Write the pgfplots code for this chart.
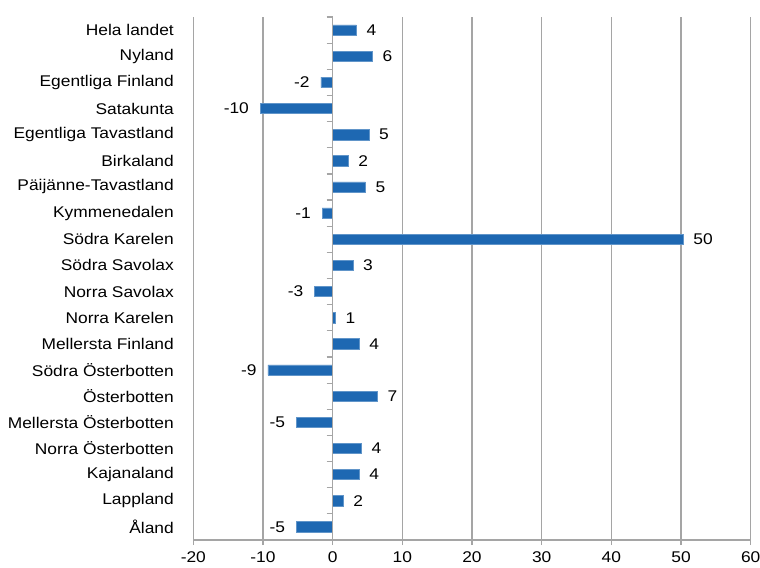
\documentclass[border=0pt]{standalone}
\usepackage{pgfplots}
\usepackage{pgfplotstable}
\pgfplotsset{compat=1.18}
\usepackage{fontspec}
\setmainfont{Liberation Sans}[FakeStretch=1.12]
\definecolor{barblue}{RGB}{30,104,178}
\definecolor{gridgray}{RGB}{165,165,165}
\newcommand{\chartfont}{\fontsize{15.5bp}{18bp}\selectfont}
% positive values
\pgfplotstableread[col sep=comma]{
y,x,lab
0,3.4,4
1,5.7,6
4,5.2,5
5,2.2,2
6,4.7,5
8,50.3,50
9,2.9,3
11,0.4,1
12,3.8,4
14,6.4,7
16,4.1,4
17,3.8,4
18,1.5,2
}\postable
% negative values
\pgfplotstableread[col sep=comma]{
y,x,lab
2,-1.7,-2
3,-10.4,-10
7,-1.5,-1
10,-2.6,-3
13,-9.3,-9
15,-5.2,-5
19,-5.2,-5
}\negtable
\begin{document}
\begin{tikzpicture}
\begin{axis}[
  at={(193.3bp,28bp)}, anchor=south west,
  width=557.4bp, height=523bp, scale only axis,
  xmin=-20, xmax=60, ymin=-0.5, ymax=19.5,
  y dir=reverse,
  axis x line*=bottom, axis y line*=left,
  axis line style={draw=gridgray, line width=1.2bp},
  xtick={-20,-10,0,10,20,30,40,50,60},
  xticklabels={-20,-10,0,10,20,30,40,50,60},
  xmajorgrids, grid style={draw=gridgray, line width=1.2bp},
  x tick style={draw=gridgray, line width=1.2bp},
  tick align=outside, major tick length=5bp,
  ytick={0,...,19},
  yticklabels={Hela landet,Nyland,Egentliga Finland,Satakunta,Egentliga Tavastland,Birkaland,Päijänne-Tavastland,Kymmenedalen,Södra Karelen,Södra Savolax,Norra Savolax,Norra Karelen,Mellersta Finland,Södra Österbotten,Österbotten,Mellersta Österbotten,Norra Österbotten,Kajanaland,Lappland,Åland},
  y tick style={draw=none},
  yticklabel style={font=\chartfont, anchor=east, xshift=-11bp},
  xticklabel style={font=\chartfont, yshift=-3bp},
  tick label style={text=black},
  xbar, bar width=10.3bp, bar shift=0pt,
  nodes near coords,
  point meta=explicit symbolic,
  clip=false,
]
\addplot[fill=barblue, draw=barblue!70!white, line width=0.6bp,
  every node near coord/.style={font=\chartfont, text=black, anchor=west, inner xsep=10bp, inner ysep=0pt}]
  table[x=x, y=y, meta=lab] {\postable};
\addplot[fill=barblue, draw=barblue!70!white, line width=0.6bp,
  every node near coord/.style={font=\chartfont, text=black, anchor=east, inner xsep=11bp, inner ysep=0pt}]
  table[x=x, y=y, meta=lab] {\negtable};
\end{axis}
\begin{axis}[
  at={(193.3bp,28bp)}, anchor=south west,
  width=557.4bp, height=523bp, scale only axis,
  xmin=-20, xmax=60, ymin=-0.5, ymax=19.5,
  y dir=reverse,
  axis x line=none, axis y line*=middle,
  axis line style={draw=gridgray, line width=1.2bp},
  xtick=\empty,
  ytick={-0.5,0.5,...,19.5}, yticklabels={},
  y tick style={draw=gridgray, line width=1.2bp},
  tick align=outside, major tick length=6bp,
]
\end{axis}
\pgfresetboundingbox
\useasboundingbox (0,0) rectangle (760bp,568bp);
\end{tikzpicture}
\end{document}
